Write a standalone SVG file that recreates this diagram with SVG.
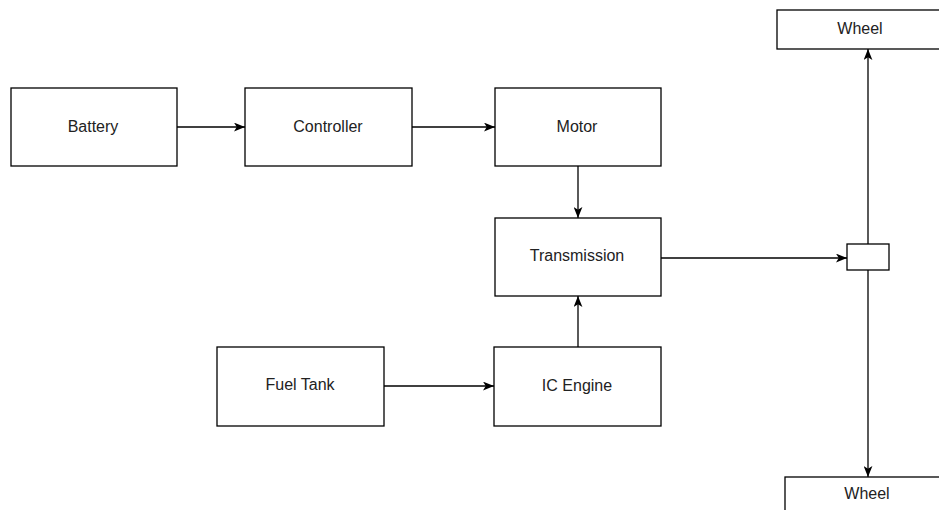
<svg xmlns="http://www.w3.org/2000/svg" width="939" height="510" viewBox="0 0 939 510">
<style>
.box{fill:#fff;stroke:#000;stroke-width:1.3}
.lbl{font-family:"Liberation Sans",Arial,sans-serif;font-size:16px;fill:#222;text-anchor:middle;dominant-baseline:central}
.edge{fill:none;stroke:#000;stroke-width:1.3}
</style>
<defs>
<marker id="ah" viewBox="0 0 10 8" refX="10" refY="4" markerWidth="11" markerHeight="9" markerUnits="userSpaceOnUse" orient="auto">
<path d="M0,0 L10,4 L0,8 L2.5,4 Z" fill="#000"/>
</marker>
</defs>
<rect width="939" height="510" fill="#fff"/>
<g id="connectors">
<line class="edge" x1="177" y1="127" x2="245" y2="127" marker-end="url(#ah)"/>
<line class="edge" x1="412" y1="127" x2="495" y2="127" marker-end="url(#ah)"/>
<line class="edge" x1="578" y1="166" x2="578" y2="218" marker-end="url(#ah)"/>
<line class="edge" x1="578" y1="347" x2="578" y2="296" marker-end="url(#ah)"/>
<line class="edge" x1="384" y1="386" x2="494" y2="386" marker-end="url(#ah)"/>
<line class="edge" x1="661" y1="258" x2="847" y2="258" marker-end="url(#ah)"/>
<line class="edge" x1="868" y1="244" x2="868" y2="49" marker-end="url(#ah)"/>
<line class="edge" x1="868" y1="270" x2="868" y2="477" marker-end="url(#ah)"/>
</g>
<g id="battery"><rect class="box" x="11" y="88" width="166" height="78"/><text class="lbl" x="93" y="126">Battery</text></g>
<g id="controller"><rect class="box" x="245" y="88" width="167" height="78"/><text class="lbl" x="328" y="126">Controller</text></g>
<g id="motor"><rect class="box" x="495" y="88" width="166" height="78"/><text class="lbl" x="577" y="126">Motor</text></g>
<g id="transmission"><rect class="box" x="495" y="218" width="166" height="78"/><text class="lbl" x="577" y="255">Transmission</text></g>
<g id="fueltank"><rect class="box" x="217" y="347" width="167" height="79"/><text class="lbl" x="300" y="384">Fuel Tank</text></g>
<g id="icengine"><rect class="box" x="494" y="347" width="167" height="79"/><text class="lbl" x="577" y="385">IC Engine</text></g>
<g id="junction"><rect class="box" x="847" y="244" width="42" height="26"/></g>
<g id="wheel-top"><rect class="box" x="777" y="10" width="166" height="39"/><text class="lbl" x="860" y="28">Wheel</text></g>
<g id="wheel-bottom"><rect class="box" x="785" y="477" width="166" height="40"/><text class="lbl" x="867" y="493">Wheel</text></g>
</svg>
